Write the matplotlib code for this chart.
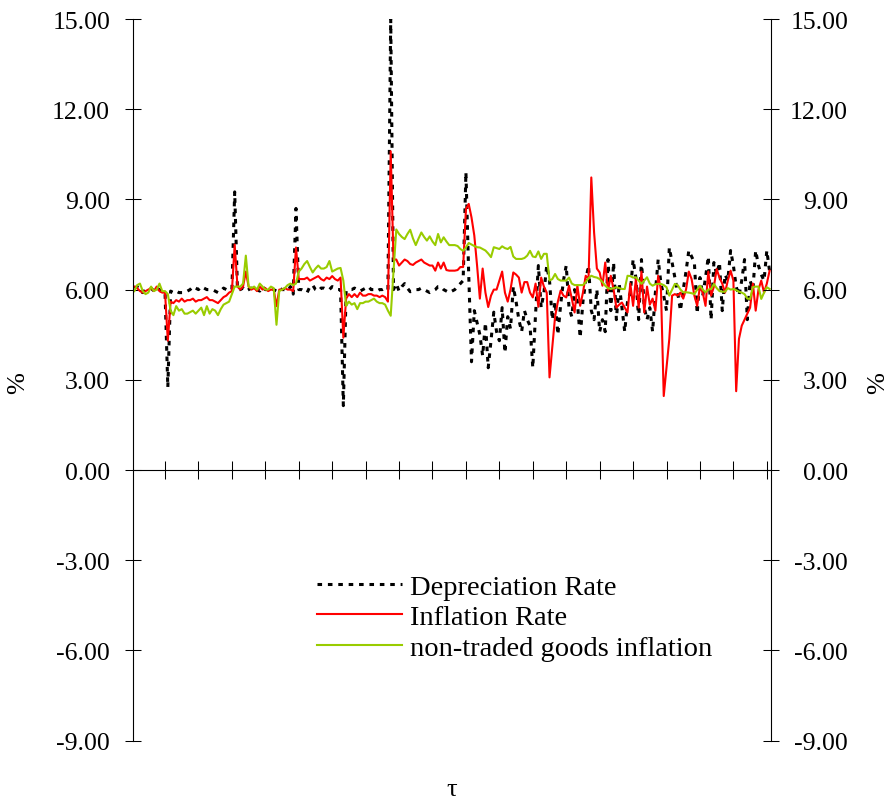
import matplotlib
matplotlib.use('Agg')
import numpy as np
from matplotlib import pyplot as plt

# monthly series
depreciation = [
    6.05, 6.1, 5.95, 5.9, 6.0, 6.0, 6.05, 5.95, 6.05, 6.0, 5.9, 5.9,
    2.75,
    5.95, 5.9, 5.95, 5.9, 5.9, 5.9, 5.95, 6.0, 6.1, 6.05, 6.0, 6.1, 6.05, 6.0, 6.0, 6.0, 5.95, 5.9, 5.95, 6.05, 6.0, 6.0, 6.0,
    9.25,
    6.0, 6.0, 6.05, 5.95, 6.0, 6.05, 5.95, 6.0, 5.95, 6.1, 6.0, 6.0, 6.05, 6.0, 5.95, 6.05, 6.0, 6.0, 5.95, 6.1, 5.85,
    8.7,
    6.0, 6.0, 5.95, 5.9, 6.1, 6.15, 6.0, 5.95, 6.05, 6.05, 6.0, 6.0, 6.1, 6.05, 6.0, 6.0,
    2.14,
    5.95, 6.0, 6.0, 6.05, 6.0, 5.95, 6.0, 6.05, 6.1, 6.0, 6.0, 5.95, 6.0, 6.0, 6.05, 6.0,
    15.0,
    6.0, 6.2, 5.95, 6.1, 6.2, 6.05, 5.93, 5.95, 6.0, 6.0, 6.05, 6.0, 5.95, 5.9, 5.95, 6.0, 6.1, 6.1, 6.0, 5.95, 5.9, 5.95, 6.0, 6.1, 6.2, 6.3,
    9.9, 6.5, 3.6, 5.3, 4.9, 4.5, 3.8, 4.9, 3.4, 4.3,
    5.25, 4.6, 4.3, 5.4, 3.9, 5.1, 4.7, 6.1, 5.6, 5.0,
    4.6, 5.3, 5.0, 4.8, 3.4, 5.2, 6.8, 5.4, 5.9, 6.8,
    6.3, 5.0, 5.6, 4.5, 5.5, 6.3, 6.8, 5.4, 5.1, 6.0,
    5.6, 4.4, 5.6, 6.3, 6.8, 5.3, 5.0, 6.0, 4.6, 5.0,
    4.6, 7.0, 5.3, 6.9, 5.0, 6.2, 5.4, 4.6, 5.6, 5.9,
    7.0, 6.4, 5.0, 7.0, 5.4, 5.0, 5.4, 4.6, 5.9, 7.0,
    6.2, 5.8, 5.3, 7.4, 6.9, 6.4, 5.9, 5.3, 6.0, 6.6,
    7.3, 7.1, 6.9, 5.2, 6.4, 5.8, 6.4, 7.1, 5.0, 6.9,
    6.5, 6.9, 5.3, 6.5, 6.3, 7.3, 6.8, 6.1, 5.8, 6.3,
    7.0, 5.0, 6.3, 6.0, 7.3, 6.8, 6.5, 6.3, 7.3, 6.6,
]

inflation = [
    6.1, 6.05, 5.95, 5.9, 5.95, 6.0, 6.05, 5.95, 6.1, 5.95, 5.9, 5.9,
    4.3,
    5.6, 5.55, 5.65, 5.6, 5.7, 5.6, 5.65, 5.65, 5.7, 5.6, 5.65, 5.65, 5.7, 5.75, 5.65, 5.65, 5.6, 5.55, 5.65, 5.75, 5.8, 5.9, 5.95,
    7.5,
    6.1, 6.0, 6.1, 6.6, 6.1, 6.0, 6.05, 5.95, 6.1, 6.0, 6.05, 5.95, 6.0, 6.0, 5.45, 6.0, 6.0, 6.05, 6.0, 6.0, 5.95,
    7.4,
    6.35, 6.35, 6.35, 6.4, 6.3, 6.35, 6.4, 6.45, 6.35, 6.3, 6.4, 6.35, 6.45, 6.35, 6.3, 6.4,
    4.4,
    5.7, 5.85, 5.75, 5.85, 5.75, 5.9, 5.8, 5.8, 5.85, 5.85, 5.8, 5.8, 5.75, 5.8, 5.75, 5.6,
    10.6, 7.0,
    7.0, 6.8, 6.9, 7.0, 6.95, 6.85, 6.82, 6.9, 6.95, 7.0, 6.9, 6.85, 6.8, 6.8, 6.63, 6.9, 6.7, 6.9, 6.65, 6.63, 6.63, 6.63, 6.65, 6.75,
    6.75, 8.68, 8.85, 8.4, 7.8, 6.8, 5.7, 6.7, 5.9, 5.42, 5.8, 6.0, 6.0, 6.3, 6.6, 5.9, 5.6,
    6.0, 6.57, 6.5, 6.4, 5.9, 6.25, 6.25, 5.9, 5.74, 6.2, 5.43, 6.4, 6.1, 5.9, 3.08, 4.1, 5.1, 5.6, 5.97, 5.8,
    5.74, 6.13, 5.7, 5.24, 6.13, 5.46, 5.9, 6.46, 6.35, 9.73, 7.9, 6.7, 6.57, 6.13, 6.9, 5.97, 6.46, 6.0, 5.4, 5.5,
    5.57, 5.4, 5.24, 6.2, 5.46,
    6.35, 5.4, 6.6, 5.24, 6.1, 5.5, 5.7, 5.3, 6.46, 6.0, 2.46, 3.4, 4.36, 5.8, 5.85, 5.8, 5.9, 5.7, 6.0, 6.6,
    6.35, 5.8, 5.46, 6.1, 5.9, 5.46, 6.6, 5.8, 6.1, 6.68, 6.4, 6.2, 5.9, 6.3, 6.63, 6.3, 2.62, 4.36, 4.8, 5.0,
    5.2, 5.4, 6.2, 5.3, 6.0, 6.3, 5.9, 6.2, 6.63,
]

non_traded = [
    5.95, 6.15, 6.2, 5.95, 5.85, 5.9, 6.1, 5.95, 6.0, 6.2, 5.95, 5.95,
    5.85, 5.3, 5.15, 5.45, 5.3, 5.35, 5.2, 5.2, 5.25, 5.3, 5.2, 5.3, 5.4, 5.15, 5.45, 5.2, 5.35, 5.3, 5.15, 5.35, 5.5, 5.55, 5.6, 5.85,
    6.1, 6.1, 6.1, 6.2, 7.13, 6.1, 6.05, 6.1, 6.0, 6.2, 6.1, 6.0, 6.0, 6.1, 6.05, 4.83, 5.95, 6.0, 6.05, 6.15, 6.2, 6.15, 6.2,
    6.6, 6.7, 6.85, 6.95, 6.75, 6.57, 6.7, 6.8, 6.7, 6.7, 6.75, 6.95, 6.6, 6.65, 6.7, 6.72,
    6.3, 5.46, 5.6, 5.5, 5.55, 5.35, 5.55, 5.55, 5.6, 5.6, 5.65, 5.7, 5.6, 5.55, 5.55, 5.5, 5.3, 5.13, 6.6,
    8.0, 7.85, 7.75, 7.68, 7.85, 7.99, 7.7, 7.48, 7.7, 7.9, 7.75, 7.63, 7.77, 7.6, 7.48, 7.85, 7.57, 7.74, 7.6, 7.48,
    7.48, 7.48, 7.45, 7.35, 7.29, 7.4, 7.55, 7.5, 7.45, 7.41, 7.4, 7.35, 7.3, 7.2, 7.08, 7.41, 7.38, 7.35, 7.44, 7.38,
    7.35,
    7.42, 7.1, 7.02, 7.02, 7.02, 7.05, 7.13, 7.29, 7.1, 7.08, 7.27, 7.02, 7.19, 7.19, 6.3, 6.35, 6.52, 6.35, 6.3, 6.3,
    6.3, 6.4, 6.2, 6.15, 6.15, 6.15, 6.15, 6.25, 6.38, 6.46, 6.42, 6.4, 6.35, 6.25, 6.13, 6.05, 6.02, 6.05, 6.08, 6.05,
    6.02, 6.02, 6.46, 6.45, 6.4,
    6.41, 6.3, 6.19, 6.3, 6.41, 6.2, 6.13, 6.18, 6.19, 6.19, 6.15, 6.08, 5.8, 6.0, 6.19, 6.15, 6.0, 5.91, 5.91, 5.9,
    5.88, 5.85, 6.0, 6.13, 6.0, 5.91, 6.0, 6.02, 6.19, 6.05, 5.95, 5.93, 5.93, 6.05, 6.0, 6.02, 5.98, 5.93, 5.9, 5.85,
    5.7, 5.69, 6.08, 6.1, 6.1, 5.69, 5.9, 6.08, 6.02,
]

labels = ['Depreciation Rate', 'Inflation Rate', 'non-traded goods inflation']
y_ticks = [-9, -6, -3, 0, 3, 6, 9, 12, 15]
tick_labels = ['%.2f' % v for v in y_ticks]

plt.rcParams['font.family'] = ['Liberation Serif', 'DejaVu Serif']

fig = plt.figure(figsize=(8.9, 8.03), dpi=100)
ax = fig.add_axes([133 / 890, 1 - 741.6 / 803, 638 / 890, 721.6 / 803])
x = np.arange(len(depreciation))

ax.plot(x, depreciation, color='black', lw=2.2, linestyle=(0, (1.5, 1.9)), label=labels[0])
ax.plot(x, inflation, color='#ff0000', lw=1.5, label=labels[1])
ax.plot(x, non_traded, color='#99cc00', lw=1.5, label=labels[2])

ax.set_xlim(-0.5, len(x) - 0.5)
ax.set_ylim(-9, 15)

# axis lines
ax.spines['top'].set_visible(False)
ax.spines['right'].set_visible(False)
ax.spines['bottom'].set_position(('data', 0))
for s in ['left', 'bottom']:
    ax.spines[s].set_linewidth(0.8)

ax.set_xticks(np.arange(11, len(x), 12))
ax.tick_params(axis='x', direction='inout', length=13, width=0.75, labelbottom=False)
ax.set_yticks(y_ticks)
ax.set_yticklabels(tick_labels)
ax.tick_params(axis='y', direction='inout', length=11, width=0.75, pad=11, labelsize=18.5)

# secondary axis on the right, labels right aligned
ax2 = ax.twinx()
ax2.set_ylim(-9, 15)
for s in ['top', 'bottom', 'left']:
    ax2.spines[s].set_visible(False)
ax2.spines['right'].set_linewidth(0.8)
ax2.set_yticks(y_ticks)
ax2.set_yticklabels(tick_labels)
ax2.tick_params(axis='y', direction='inout', length=12, width=0.75, pad=49.5, labelsize=18.5)
plt.setp(ax2.get_yticklabels(), ha='right')

ax.legend(loc='upper left', bbox_to_anchor=(317 / 890, 1 - 575 / 803),
          bbox_transform=fig.transFigure, frameon=False, fontsize=20.5,
          handlelength=3.0, handletextpad=0.25, labelspacing=0.16,
          borderpad=0, borderaxespad=0)

fig.text(18 / 890, 1 - 383 / 803, '%', rotation=90, ha='center', va='center', fontsize=19)
fig.text(878 / 890, 1 - 383 / 803, '%', rotation=90, ha='center', va='center', fontsize=19)
fig.text(452 / 890, 1 - 790 / 803, 'τ', ha='center', va='center', fontsize=19)

fig.savefig('out.png', dpi=100)
